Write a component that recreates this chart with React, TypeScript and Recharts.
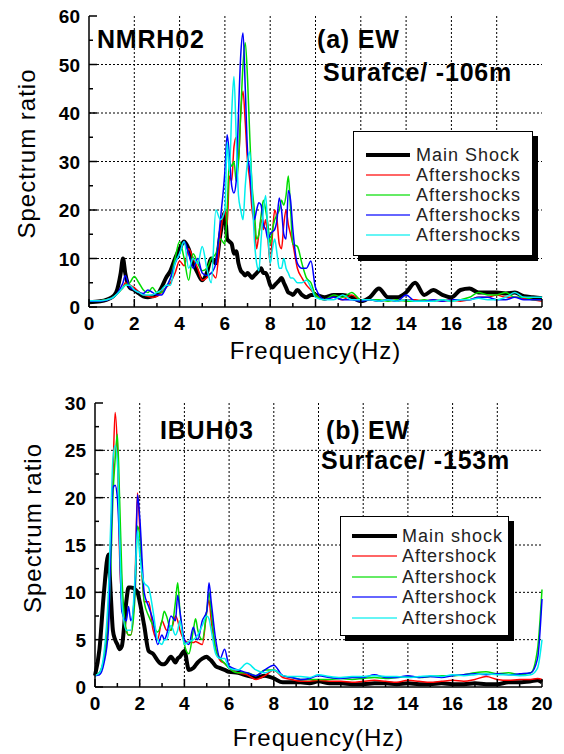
import React from 'react';
import { LineChart, Line, XAxis, YAxis, CartesianGrid, Legend } from 'recharts';

const FONT = '"Liberation Sans", Arial, Helvetica, sans-serif';

// ---- (a) NMRH02 EW, surface / -106 m ----
const freqA = [
  0, 0.5, 1, 1.2, 1.4, 1.5, 1.6, 1.8, 2, 2.2,
  2.4, 2.6, 2.8, 3, 3.2, 3.4, 3.6, 3.8, 4, 4.2,
  4.4, 4.6, 4.8, 5, 5.2, 5.4, 5.6, 5.8, 6, 6.1,
  6.2, 6.3, 6.4, 6.5, 6.6, 6.7, 6.8, 6.9, 7, 7.1,
  7.2, 7.3, 7.4, 7.5, 7.6, 7.7, 7.8, 7.9, 8, 8.1,
  8.2, 8.3, 8.4, 8.5, 8.6, 8.7, 8.8, 8.9, 9, 9.2,
  9.4, 9.6, 9.8, 10, 10.4, 10.8, 11.2, 11.6, 12, 12.4,
  12.8, 13.2, 13.6, 14, 14.4, 14.8, 15.2, 15.6, 16, 16.4,
  16.8, 17.2, 17.6, 18, 18.4, 18.8, 19.2, 19.6, 20,
];
const mainA = [
  1.0, 1.2, 2, 3, 7, 10, 7, 4, 3.5, 2.8,
  2.2, 2, 2.2, 2.5, 4, 6, 7.5, 10, 12, 13.5,
  12, 9, 7, 5.5, 7, 10, 9, 15, 19.5, 14,
  13.5, 13, 11, 11.5, 9, 7.5, 7, 6.5, 7, 6.5,
  6, 6.5, 7, 7.5, 8, 7, 7, 6, 4.5, 4,
  4.5, 5, 5.5, 6, 5, 4, 3, 2.8, 2.5, 3.5,
  2.5, 2, 2.5, 2.5, 2, 2.5, 2.5, 2, 1.2, 2,
  3.8, 2, 2, 3, 5, 2.5, 3.5, 2.5, 2, 3.5,
  3.8, 3, 3, 3, 2.8, 3, 2.2, 2, 1.8,
];
const redA = [
  1.3, 1.3, 1.8, 2.5, 3.5, 4, 5, 4.5, 4, 3,
  2.5, 2.2, 2, 2.2, 3, 4, 5, 7, 9.5, 8.5,
  12, 10, 8, 5.5, 6, 7, 6, 15, 20, 17,
  27, 26, 33, 35, 30, 40, 44.5, 38, 30, 26,
  20, 17, 12, 15, 18, 16, 18, 14, 9, 15,
  20, 18, 13, 12, 17, 20, 17, 15, 13, 8,
  6, 4.5, 3.5, 2.5, 1.5, 2, 1.5, 2.5, 1.5, 1.5,
  1.2, 1.5, 1.2, 1.5, 1.5, 1.2, 1.5, 1.2, 1.5, 1.2,
  1.5, 2, 2, 2.5, 2, 2, 1.8, 1.5, 1.2,
];
const greenA = [
  1.3, 1.3, 1.8, 2.5, 3.5, 4, 4.5, 5, 6.3, 5,
  3.5, 3, 4, 3, 3, 4, 6, 10, 13.5, 10,
  5.5, 11, 9, 7.5, 8, 10, 11, 14, 13, 20,
  30, 29, 30, 26, 30, 40, 50, 54.5, 47, 35,
  25, 20, 14, 15, 19, 22, 20, 17, 13, 16,
  18, 19, 20, 22, 21, 23, 27, 20, 13, 12.5,
  9, 6, 5, 2.5, 1.5, 2.5, 2, 3, 1.5, 1.5,
  1.5, 1.2, 1.5, 1.2, 1.2, 1.5, 1.2, 1.5, 1.2, 1.5,
  2, 3, 2.5, 2.5, 3, 2, 2, 1.5, 1.5,
];
const blueA = [
  1.2, 1.2, 1.8, 2.5, 4, 5, 6.5, 4, 3.5, 3,
  2.8, 3.5, 3, 2.5, 2.5, 4, 6, 9, 11, 13.5,
  11, 8, 10, 7, 6.5, 7, 9, 18, 28, 35.5,
  31, 25, 23.5, 26, 40, 52, 56.5, 45, 32, 28,
  22, 18, 20, 21.5, 21, 17, 16, 14, 15, 15.5,
  16, 18, 22.5, 20, 15, 14, 24, 22, 16, 9,
  8, 8, 9.5, 4, 1.5, 2, 1.5, 1.5, 1.2, 1.5,
  1.2, 1.5, 1.2, 2.5, 1.2, 1.2, 1.5, 1.2, 1.5, 1.5,
  1.5, 2, 2, 1.5, 1.5, 2, 1.5, 1.5, 1.5,
];
const cyanA = [
  1.3, 1.3, 1.8, 2.5, 3.5, 4, 4.5, 4.5, 3.5, 3,
  2.5, 2.5, 2.5, 3, 3.5, 4.5, 4.5, 9, 11, 13.5,
  8, 10, 9, 12.5, 8, 5, 20, 18, 20, 34,
  28, 40, 47.5, 35, 23, 20, 18, 25, 30, 32,
  24, 14, 9, 7.5, 14, 20, 23, 15, 9, 12,
  14, 11, 8, 8, 10, 8, 7, 6, 6, 5,
  5, 5.5, 4, 2, 1.5, 1.5, 2.5, 1.5, 1.5, 1.5,
  1.2, 1.5, 1.2, 1.5, 1.2, 1.2, 1.2, 1.5, 1.2, 1.5,
  1.5, 1.8, 1.5, 1.5, 2, 3, 2, 2, 2,
];

// ---- (b) IBUH03 EW, surface / -153 m ----
const freqB = [
  0, 0.2, 0.4, 0.6, 0.7, 0.8, 0.9, 1, 1.1, 1.2,
  1.4, 1.5, 1.6, 1.8, 1.9, 2, 2.2, 2.4, 2.6, 2.8,
  3, 3.1, 3.2, 3.4, 3.6, 3.7, 3.8, 4, 4.2, 4.4,
  4.5, 4.6, 4.8, 5, 5.1, 5.2, 5.4, 5.6, 5.8, 6,
  6.4, 6.8, 7.2, 7.6, 8, 8.4, 8.8, 9.2, 9.6, 10,
  10.5, 11, 11.5, 12, 12.5, 13, 13.5, 14, 14.5, 15,
  15.5, 16, 16.5, 17, 17.5, 18, 18.5, 19, 19.5, 19.8,
  20,
];
const mainB = [
  1.2, 4, 10, 14, 10, 6, 5, 4.5, 4, 4.3,
  9, 10.5, 10.5, 10.3, 10, 9, 6.5, 3.8, 3.5, 2.8,
  2.4, 2.4, 2.6, 3.2, 2.6, 3, 3.2, 3.8, 1.8, 2,
  2.3, 2.6, 3, 3.2, 3, 2.8, 2.2, 2, 1.8, 1.6,
  1.5, 1.2, 1, 1.2, 0.9, 0.5, 0.5, 0.5, 0.4, 0.6,
  0.4, 0.4, 0.3, 0.3, 0.4, 0.4, 0.3, 0.4, 0.3, 0.3,
  0.4, 0.3, 0.3, 0.4, 0.3, 0.3, 0.5, 0.5, 0.6, 0.7,
  0.5,
];
const redB = [
  1.2, 1.5, 3, 8, 15, 22, 29, 25, 14, 9,
  6, 5.5, 5.5, 12, 20.5, 17, 9, 9, 6, 5,
  7, 6.5, 6, 6, 7.5, 7, 6, 5, 4.7, 4.7,
  4.8, 4.7, 4.5, 8, 9.2, 7, 4, 2.8, 2.5, 2,
  1.5, 1.3, 0.8, 1.2, 1.8, 1, 0.8, 0.6, 0.6, 0.7,
  0.6, 0.6, 0.5, 0.6, 0.7, 0.6, 0.5, 0.7, 0.6, 0.5,
  0.6, 0.7, 0.6, 0.8, 1.1, 0.8, 0.7, 0.8, 0.8, 0.9,
  0.8,
];
const greenB = [
  1.2, 1.5, 3, 7, 12, 20, 24, 26.7, 20, 12,
  6, 5.5, 5.5, 10, 17, 16, 9, 7.5, 6.5, 5.8,
  7, 8, 7.5, 6, 9, 11, 8, 4.5, 3.5, 6,
  7.2, 6, 5, 8, 10, 8, 4, 3, 2.5, 2,
  1.5, 1.5, 1.2, 1.8, 1.8, 1.2, 1, 0.8, 0.8, 0.8,
  0.8, 0.9, 0.8, 0.9, 1, 0.9, 1, 1.1, 1, 1.1,
  1.2, 1.2, 1.3, 1.5, 1.6, 1.4, 1.5, 1.3, 1.5, 4,
  10.3,
];
const blueB = [
  1.2, 1.3, 2.5, 6, 14, 21, 21.3, 20, 15, 8,
  7, 8.5, 7, 11, 20.3, 18, 10, 8.5, 7, 4.5,
  5.5, 5, 5.5, 7.5, 7, 9.7, 8, 5, 4.5, 6.3,
  5.5, 5, 7, 8, 11, 9, 5, 3, 4, 2.2,
  1.8, 1.5, 1.2, 1.8, 2.3, 1.2, 1, 0.8, 0.9, 1.2,
  1, 0.9, 1, 1, 1.3, 1, 1, 1.2, 1, 1.1,
  1, 1.2, 1.3, 1.4, 1.3, 1.4, 1.3, 1.4, 1.5, 3,
  9.3,
];
const cyanB = [
  1.2, 1.5, 3.5, 10, 17, 24, 25.5, 24, 16, 9,
  6, 6, 6, 12, 16.5, 14, 11, 10.5, 8, 5,
  4.5, 5, 5, 6.5, 5.5, 6, 7, 4.5, 4.8, 5,
  5.2, 5.5, 6.5, 7.5, 7.2, 6, 3.5, 3, 3, 2,
  1.8, 2.5, 1.8, 1.5, 1.8, 1.2, 1.1, 1.1, 1, 1.3,
  1.1, 1, 1.1, 1.1, 1.2, 1.1, 1.1, 1, 1.1, 1.2,
  1.1, 1.3, 1.2, 1.3, 1.4, 1.3, 1.3, 1.2, 1.3, 2,
  5,
];

// axis ticks (minor + major)
const xTicks = [0, 1, 2, 3, 4, 5, 6, 7, 8, 9, 10, 11, 12, 13, 14, 15, 16, 17, 18, 19, 20];
const xMajor = [0, 2, 4, 6, 8, 10, 12, 14, 16, 18, 20];
const yTicksA = [0, 5, 10, 15, 20, 25, 30, 35, 40, 45, 50, 55, 60];
const yMajorA = [0, 10, 20, 30, 40, 50, 60];
const yTicksB = [0, 2.5, 5, 7.5, 10, 12.5, 15, 17.5, 20, 22.5, 25, 27.5, 30];
const yMajorB = [0, 5, 10, 15, 20, 25, 30];

const namesA = ['Main Shock', 'Aftershocks', 'Aftershocks', 'Aftershocks', 'Aftershocks'];
const namesB = ['Main shock', 'Aftershock', 'Aftershock', 'Aftershock', 'Aftershock'];

const KEYS = ['main', 'r', 'g', 'b', 'c'];
const COLORS = ['#000000', '#ff0000', '#00dd00', '#0000ff', '#00eeee'];
const WIDTHS = [4, 1.5, 1.5, 1.5, 1.5];

const toRows = (freq: number[], cols: number[][]) =>
  freq.map((f, i) => {
    const row: Record<string, number> = { f };
    KEYS.forEach((k, j) => (row[k] = cols[j][i]));
    return row;
  });

const rowsA = toRows(freqA, [mainA, redA, greenA, blueA, cyanA]);
const rowsB = toRows(freqB, [mainB, redB, greenB, blueB, cyanB]);

const tickFont = { fontFamily: FONT, fontWeight: 700, fontSize: 19, fill: '#000' };
const titleFont = { fontFamily: FONT, fontSize: 24, letterSpacing: 1, fill: '#000' };

// inward ticks, long on major values; labels only on bottom/left majors
const AxisTick = (props: any) => {
  const { x = 0, y = 0, payload, major, side } = props;
  const v = payload ? payload.value : 0;
  const isMajor = major.includes(v);
  const len = isMajor ? 8 : 4;
  let seg = { x1: x, y1: y, x2: x, y2: y - len };
  if (side === 'top') seg = { x1: x, y1: y, x2: x, y2: y + len };
  if (side === 'left') seg = { x1: x, y1: y, x2: x + len, y2: y };
  if (side === 'right') seg = { x1: x, y1: y, x2: x - len, y2: y };
  return (
    <g>
      <line {...seg} stroke="#000" strokeWidth={1.5} />
      {isMajor && side === 'bottom' && (
        <text x={x} y={y + 23} textAnchor="middle" style={tickFont}>{v}</text>
      )}
      {isMajor && side === 'left' && (
        <text x={x - 9} y={y + 7} textAnchor="end" style={tickFont}>{v}</text>
      )}
    </g>
  );
};

const XTitle = (props: any) => {
  const { viewBox = { x: 0, y: 0, width: 0 }, text, dy } = props;
  return (
    <text x={viewBox.x + viewBox.width / 2} y={viewBox.y + dy} textAnchor="middle" style={titleFont}>
      {text}
    </text>
  );
};

const YTitle = (props: any) => {
  const { viewBox = { x: 0, y: 0, height: 0 }, text, dx, dy } = props;
  const px = viewBox.x + dx;
  const py = viewBox.y + viewBox.height / 2 + dy;
  return (
    <text x={px} y={py} transform={`rotate(-90 ${px} ${py})`} textAnchor="middle" style={titleFont}>
      {text}
    </text>
  );
};

// framed legend with a solid drop shadow, entries kept in series order
const ShockLegend = (props: any) => {
  const { payload = [], box } = props;
  const entries = [...payload].sort(
    (a: any, b: any) => KEYS.indexOf(a.dataKey) - KEYS.indexOf(b.dataKey)
  );
  return (
    <div
      style={{
        position: 'relative',
        width: box.width,
        height: box.height,
        boxSizing: 'border-box',
        border: '1.5px solid #000',
        background: '#fff',
        boxShadow: '5px 5px 0 #000',
      }}
    >
      {entries.map((entry: any, i: number) => {
        const cy = box.firstRow + i * box.gap;
        const h = i === 0 ? 4 : 2;
        return (
          <React.Fragment key={i}>
            <div
              style={{
                position: 'absolute',
                left: box.lineLeft,
                top: cy - h / 2 - 1.5,
                width: box.lineLen,
                height: h,
                background: entry.color,
                opacity: i === 0 ? 1 : 0.6,
              }}
            />
            <div
              style={{
                position: 'absolute',
                left: box.textLeft,
                top: cy - 10 - 1.5,
                lineHeight: '20px',
                fontSize: 18,
                letterSpacing: 1,
                fontFamily: FONT,
                color: '#222',
                whiteSpace: 'nowrap',
              }}
            >
              {entry.value}
            </div>
          </React.Fragment>
        );
      })}
    </div>
  );
};

const noteStyle = {
  position: 'absolute' as const,
  fontFamily: FONT,
  fontWeight: 700,
  fontSize: 25,
  lineHeight: '25px',
  letterSpacing: 0.8,
  color: '#000',
  whiteSpace: 'nowrap' as const,
  pointerEvents: 'none' as const,
};

const Panel = (props: any) => {
  const { rows, top, height, margin, yWidth, xHeight, yMax, yTicks, yMajor, names, legendBox, notes, xTitleDy, yTitleDx, yTitleDy } = props;
  return (
    <div style={{ position: 'absolute', left: 0, top, width: 564, height }}>
      <LineChart width={564} height={height} data={rows} margin={margin}>
        <CartesianGrid
          stroke="#000"
          strokeWidth={1}
          strokeDasharray="2 2"
          horizontalValues={yMajor.slice(1, -1)}
          verticalValues={xMajor.slice(1, -1)}
        />
        <XAxis
          dataKey="f"
          type="number"
          domain={[0, 20]}
          ticks={xTicks}
          interval={0}
          height={xHeight}
          tickSize={0}
          tickMargin={0}
          tickLine={false}
          axisLine={{ stroke: '#000', strokeWidth: 1.5 }}
          tick={<AxisTick side="bottom" major={xMajor} />}
          label={<XTitle text="Frequency(Hz)" dy={xTitleDy} />}
        />
        <XAxis
          xAxisId="top"
          orientation="top"
          dataKey="f"
          type="number"
          domain={[0, 20]}
          ticks={xTicks}
          interval={0}
          height={0}
          tickSize={0}
          tickMargin={0}
          tickLine={false}
          axisLine={{ stroke: '#000', strokeWidth: 1.5 }}
          tick={<AxisTick side="top" major={xMajor} />}
        />
        <YAxis
          type="number"
          domain={[0, yMax]}
          ticks={yTicks}
          interval={0}
          width={yWidth}
          tickSize={0}
          tickMargin={0}
          tickLine={false}
          axisLine={{ stroke: '#000', strokeWidth: 1.5 }}
          tick={<AxisTick side="left" major={yMajor} />}
          label={<YTitle text="Spectrum ratio" dx={yTitleDx} dy={yTitleDy} />}
        />
        <YAxis
          yAxisId="right"
          orientation="right"
          type="number"
          domain={[0, yMax]}
          ticks={yTicks}
          interval={0}
          width={0}
          tickSize={0}
          tickMargin={0}
          tickLine={false}
          axisLine={{ stroke: '#000', strokeWidth: 1.5 }}
          tick={<AxisTick side="right" major={yMajor} />}
        />
        {KEYS.map((k, i) => (
          <Line
            key={k}
            dataKey={k}
            name={names[i]}
            type="monotone"
            stroke={COLORS[i]}
            strokeWidth={WIDTHS[i]}
            dot={false}
            activeDot={false}
            isAnimationActive={false}
          />
        ))}
        <Legend
          layout="vertical"
          align="center"
          verticalAlign="middle"
          wrapperStyle={{ left: legendBox.left, top: legendBox.top, width: legendBox.width + 6, height: legendBox.height + 6 }}
          content={<ShockLegend box={legendBox} />}
        />
      </LineChart>
      {notes.map((n: any) => (
        <div key={n.text} style={{ ...noteStyle, left: n.left, top: n.top }}>
          {n.text}
        </div>
      ))}
    </div>
  );
};

export default function App() {
  return (
    <div style={{ position: 'absolute', left: 0, top: 0, width: 564, height: 754, background: '#fff' }}>
      <Panel
        rows={rowsA}
        top={0}
        height={370}
        margin={{ top: 16, right: 22, bottom: 0, left: 0 }}
        yWidth={89}
        xHeight={63}
        yMax={60}
        yTicks={yTicksA}
        yMajor={yMajorA}
        names={namesA}
        xTitleDy={51.5}
        yTitleDx={34.5}
        yTitleDy={-8}
        legendBox={{ left: 353, top: 131, width: 180, height: 125, firstRow: 24, gap: 20, lineLeft: 12, lineLen: 44, textLeft: 62 }}
        notes={[
          { text: 'NMRH02', left: 97, top: 27 },
          { text: '(a) EW', left: 317, top: 27 },
          { text: 'Surafce/ -106m', left: 323, top: 60 },
        ]}
      />
      <Panel
        rows={rowsB}
        top={370}
        height={384}
        margin={{ top: 33, right: 22, bottom: 0, left: 0 }}
        yWidth={95}
        xHeight={67}
        yMax={30}
        yTicks={yTicksB}
        yMajor={yMajorB}
        names={namesB}
        xTitleDy={58.5}
        yTitleDx={40.5}
        yTitleDy={-17}
        legendBox={{ left: 340, top: 146, width: 169, height: 120, firstRow: 20, gap: 20.5, lineLeft: 11, lineLen: 45, textLeft: 61 }}
        notes={[
          { text: 'IBUH03', left: 160, top: 48 },
          { text: '(b) EW', left: 326, top: 48 },
          { text: 'Surface/ -153m', left: 321, top: 78 },
        ]}
      />
    </div>
  );
}
